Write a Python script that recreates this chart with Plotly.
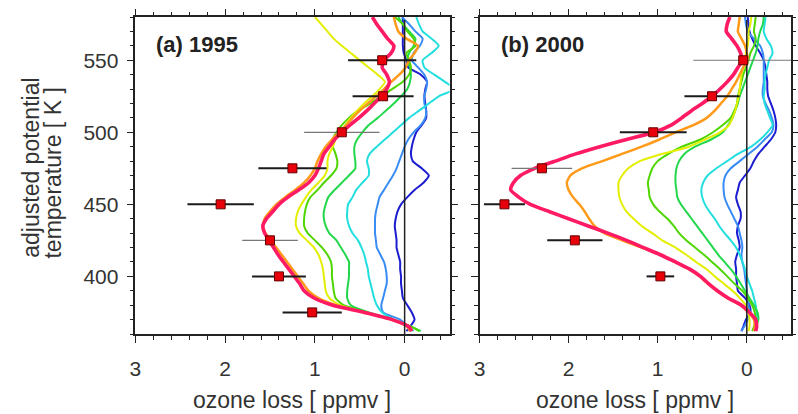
import plotly.graph_objects as go

# Potential-temperature levels (K) shared by every modelled profile
theta = [580, 575, 570, 565, 560,
         555, 550, 545, 540, 535,
         530, 525, 520, 515, 510,
         505, 500, 495, 490, 485,
         480, 475, 470, 465, 460,
         455, 450, 445, 440, 435,
         430, 425, 420, 415, 410,
         405, 400, 395, 390, 385,
         380, 375, 370, 365, 362]

# ---- (a) 1995: modelled ozone loss profiles (ppmv) ----
a_darkblue = [0.02, 0.02, 0.02, 0.02, 0.02,
              0.01, -0.02, -0.04, -0.18, -0.25,
              -0.23, -0.22, -0.23, -0.24, -0.24,
              -0.19, -0.13, -0.10, -0.08, -0.07,
              -0.09, -0.19, -0.27, -0.21, -0.11,
              -0.03, 0.04, 0.08, 0.10, 0.11,
              0.10, 0.09, 0.09, 0.07, 0.05,
              0.05, 0.04, 0.04, 0.03, 0.02,
              -0.03, -0.08, -0.11, -0.06, -0.02]
a_blue = [0.03, -0.05, -0.12, -0.20, -0.17,
          -0.10, -0.08, -0.15, -0.22, -0.25,
          -0.24, -0.22, -0.22, -0.24, -0.23,
          -0.18, -0.10, -0.04, 0.00, 0.03,
          0.06, 0.09, 0.13, 0.18, 0.23,
          0.28, 0.30, 0.32, 0.33, 0.33,
          0.33, 0.32, 0.31, 0.27, 0.23,
          0.21, 0.20, 0.20, 0.22, 0.24,
          0.26, 0.24, 0.05, -0.03, -0.06]
a_cyan = [-0.13, -0.16, -0.20, -0.30, -0.38,
          -0.30, -0.20, -0.22, -0.33, -0.45,
          -0.55, -0.38, -0.27, -0.16, -0.05,
          0.04, 0.13, 0.22, 0.31, 0.39,
          0.42, 0.40, 0.40, 0.47, 0.54,
          0.58, 0.63, 0.64, 0.64, 0.62,
          0.58, 0.52, 0.48, 0.45, 0.43,
          0.41, 0.40, 0.38, 0.36, 0.34,
          0.31, 0.25, 0.12, -0.05, -0.10]
a_green = [0.07, 0.02, -0.05, -0.12, -0.10,
           -0.05, -0.03, -0.06, -0.07, -0.06,
           -0.03, 0.04, 0.12, 0.21, 0.30,
           0.40, 0.47, 0.53, 0.56, 0.56,
           0.55, 0.55, 0.62, 0.70, 0.78,
           0.85, 0.88, 0.90, 0.90, 0.88,
           0.84, 0.76, 0.71, 0.66, 0.62,
           0.62, 0.62, 0.63, 0.64, 0.64,
           0.60, 0.40, 0.12, -0.08, -0.18]
a_lime = [0.11, 0.02, -0.03, -0.10, -0.12,
          -0.02, -0.05, -0.07, -0.05, 0.02,
          0.14, 0.26, 0.38, 0.52, 0.62,
          0.70, 0.76, 0.80, 0.80, 0.77,
          0.75, 0.76, 0.82, 0.90, 0.97,
          1.05, 1.09, 1.11, 1.12, 1.12,
          1.08, 1.00, 0.92, 0.86, 0.82,
          0.81, 0.81, 0.80, 0.79, 0.77,
          0.68, 0.42, 0.14, -0.08, -0.16]
a_yellow = [1.00, 0.93, 0.86, 0.79, 0.70,
            0.60, 0.50, 0.40, 0.30, 0.22,
            0.28, 0.36, 0.45, 0.53, 0.60,
            0.66, 0.72, 0.77, 0.80, 0.84,
            0.86, 0.86, 0.89, 0.96, 1.04,
            1.10, 1.15, 1.19, 1.21, 1.21,
            1.17, 1.09, 1.01, 0.96, 0.93,
            0.91, 0.90, 0.89, 0.88, 0.84,
            0.72, 0.45, 0.16, -0.04, -0.08]
a_orange = [0.12, 0.10, 0.07, -0.02, -0.15,
            -0.11, -0.05, -0.01, 0.06, 0.15,
            0.23, 0.32, 0.41, 0.50, 0.58,
            0.65, 0.73, 0.81, 0.88, 0.93,
            0.97, 1.00, 1.05, 1.12, 1.22,
            1.33, 1.43, 1.50, 1.56, 1.58,
            1.55, 1.49, 1.43, 1.37, 1.31,
            1.25, 1.19, 1.13, 1.07, 0.96,
            0.76, 0.45, 0.14, -0.03, -0.06]
a_red = [0.36, 0.31, 0.25, 0.19, 0.12,
         0.15, 0.23, 0.25, 0.20, 0.17,
         0.20, 0.26, 0.34, 0.42, 0.51,
         0.61, 0.70, 0.78, 0.84, 0.90,
         0.93, 0.96, 1.00, 1.07, 1.18,
         1.30, 1.40, 1.47, 1.54, 1.58,
         1.56, 1.51, 1.46, 1.41, 1.35,
         1.29, 1.23, 1.17, 1.12, 1.01,
         0.80, 0.45, 0.14, -0.05, -0.08]

# ---- (b) 2000: modelled ozone loss profiles (ppmv) ----
b_darkblue = [-0.01, -0.02, -0.03, -0.06, -0.10,
              -0.15, -0.19, -0.21, -0.22, -0.23,
              -0.23, -0.24, -0.27, -0.30, -0.32,
              -0.33, -0.32, -0.27, -0.20, -0.13,
              -0.08, -0.04, 0.02, 0.08, 0.10,
              0.12, 0.10, 0.07, 0.07, 0.10,
              0.11, 0.09, 0.08, 0.11, 0.13,
              0.12, 0.12, 0.11, 0.10, 0.02,
              -0.03, -0.04, 0.01, 0.04, 0.06]
b_blue = [0.02, 0.01, -0.01, -0.08, -0.15,
          -0.18, -0.19, -0.19, -0.19, -0.19,
          -0.18, -0.18, -0.21, -0.25, -0.28,
          -0.30, -0.28, -0.20, -0.12, -0.02,
          0.08, 0.18, 0.24, 0.26, 0.26,
          0.25, 0.22, 0.18, 0.14, 0.10,
          0.08, 0.06, 0.05, 0.06, 0.05,
          0.03, 0.02, 0.01, 0.00, -0.01,
          -0.02, -0.03, -0.01, 0.03, 0.06]
b_cyan = [-0.21, -0.20, -0.19, -0.22, -0.27,
          -0.29, -0.25, -0.23, -0.21, -0.20,
          -0.20, -0.19, -0.20, -0.23, -0.26,
          -0.29, -0.23, -0.15, -0.05, 0.10,
          0.22, 0.34, 0.44, 0.49, 0.51,
          0.50, 0.47, 0.42, 0.36, 0.31,
          0.25, 0.18, 0.12, 0.08, 0.05,
          0.02, 0.00, -0.03, -0.06, -0.08,
          -0.10, -0.11, -0.12, -0.10, -0.08]
b_green = [-0.19, -0.18, -0.15, -0.13, -0.12,
           -0.10, -0.07, -0.04, -0.01, 0.02,
           0.05, 0.08, 0.10, 0.13, 0.16,
           0.21, 0.27, 0.40, 0.58, 0.70,
           0.76, 0.79, 0.80, 0.80, 0.79,
           0.78, 0.74, 0.68, 0.62, 0.56,
           0.50, 0.44, 0.38, 0.32, 0.25,
           0.18, 0.12, 0.07, 0.02, -0.03,
           -0.08, -0.12, -0.13, -0.10, -0.08]
b_lime = [-0.10, -0.09, -0.08, -0.10, -0.08,
          -0.04, -0.02, 0.01, 0.04, 0.06,
          0.08, 0.10, 0.11, 0.14, 0.18,
          0.27, 0.38, 0.52, 0.73, 0.88,
          1.00, 1.06, 1.09, 1.11, 1.10,
          1.09, 1.05, 0.98, 0.89, 0.82,
          0.76, 0.68, 0.58, 0.48, 0.39,
          0.30, 0.22, 0.14, 0.05, -0.01,
          -0.06, -0.09, -0.10, -0.08, -0.06]
b_yellow = [-0.05, -0.04, -0.02, -0.02, -0.01,
            0.01, 0.02, 0.04, 0.06, 0.07,
            0.08, 0.09, 0.11, 0.13, 0.16,
            0.20, 0.30, 0.47, 0.65, 0.95,
            1.20, 1.33, 1.40, 1.44, 1.44,
            1.43, 1.40, 1.35, 1.27, 1.18,
            1.06, 0.95, 0.80, 0.68, 0.57,
            0.45, 0.36, 0.26, 0.16, 0.08,
            0.01, -0.02, -0.03, -0.03, -0.02]
b_orange = [0.08, 0.09, 0.10, 0.06, 0.02,
            0.00, -0.01, 0.04, 0.08, 0.12,
            0.17, 0.22, 0.29, 0.36, 0.45,
            0.60, 0.80, 0.98, 1.18, 1.40,
            1.62, 1.85, 1.98, 2.02, 2.00,
            1.95, 1.88, 1.82, 1.77, 1.71,
            1.60, 1.40, 1.18, 0.97, 0.81,
            0.65, 0.53, 0.44, 0.34, 0.22,
            0.07, -0.02, -0.08, -0.09, -0.08]
b_red = [0.19, 0.22, 0.23, 0.17, 0.11,
         0.07, 0.05, 0.10, 0.15, 0.22,
         0.30, 0.39, 0.50, 0.62, 0.73,
         0.85, 1.04, 1.35, 1.65, 1.92,
         2.15, 2.38, 2.54, 2.62, 2.65,
         2.56, 2.43, 2.22, 2.00, 1.78,
         1.56, 1.35, 1.16, 0.97, 0.80,
         0.64, 0.52, 0.43, 0.33, 0.21,
         0.06, -0.03, -0.10, -0.11, -0.10]

# ---- observed ozone loss with uncertainty ----
obs_theta_a = [550, 525, 500, 475, 450, 425, 400, 375]
obs_loss_a = [0.25, 0.24, 0.70, 1.25, 2.05, 1.50, 1.40, 1.03]
obs_err_a = [0.38, 0.34, 0.42, 0.38, 0.37, 0.31, 0.30, 0.33]

obs_theta_b = [550, 525, 500, 475, 450, 425, 400]
obs_loss_b = [0.04, 0.39, 1.05, 2.30, 2.72, 1.93, 0.97]
obs_err_b = [0.56, 0.31, 0.375, 0.34, 0.23, 0.31, 0.155]

# Error-bar shade per observation (True = light grey bar)
light_bar_a = [False, False, True, False, False, True, False, False]
light_bar_b = [True, False, False, True, False, False, False]

x_ticks = [3, 2, 1, 0]
y_ticks = [400, 450, 500, 550]

# colour scale from earliest (blue) to latest (red) profile
colors = ["#1c1cd0", "#3a8cf5", "#22dede", "#22d84a",
          "#4fd600", "#e4ee00", "#ff9a1a", "#ff1a64"]
widths = [2.0, 2.0, 2.0, 2.0, 2.0, 2.0, 2.5, 3.6]

panels = [
    dict(curves=[a_darkblue, a_blue, a_cyan, a_green, a_lime, a_yellow, a_orange, a_red],
         obs=(obs_theta_a, obs_loss_a, obs_err_a, light_bar_a), xa="x", ya="y"),
    dict(curves=[b_darkblue, b_blue, b_cyan, b_green, b_lime, b_yellow, b_orange, b_red],
         obs=(obs_theta_b, obs_loss_b, obs_err_b, light_bar_b), xa="x2", ya="y2"),
]

fig = go.Figure()

for p in panels:
    for vals, c, w in zip(p["curves"], colors, widths):
        fig.add_trace(go.Scatter(x=vals, y=theta, mode="lines",
                                 line=dict(color=c, width=w, shape="spline", smoothing=0.6),
                                 xaxis=p["xa"], yaxis=p["ya"], hoverinfo="skip"))
    # zero-loss reference line
    fig.add_trace(go.Scatter(x=[0, 0], y=[360, 578], mode="lines",
                             line=dict(color="#222222", width=1.5),
                             xaxis=p["xa"], yaxis=p["ya"], hoverinfo="skip"))
    th, loss, err, light = p["obs"]
    for want_light in (True, False):
        idx = [i for i, l in enumerate(light) if l == want_light]
        if not idx:
            continue
        fig.add_trace(go.Scatter(
            x=[loss[i] for i in idx], y=[th[i] for i in idx], mode="markers",
            marker=dict(symbol="square", size=9, color="#e8000b",
                        line=dict(color="#600000", width=1)),
            error_x=dict(type="data", array=[err[i] for i in idx], visible=True,
                         color="#777777" if want_light else "#1a1a1a",
                         thickness=1.2 if want_light else 2.0, width=0),
            xaxis=p["xa"], yaxis=p["ya"]))

# empty traces so the top/right tick axes get their own subplots
for xa, ya in (("x3", "y"), ("x", "y3"), ("x4", "y2"), ("x2", "y4")):
    fig.add_trace(go.Scatter(x=[None], y=[None], xaxis=xa, yaxis=ya,
                             mode="lines", hoverinfo="skip"))

font_family = "Liberation Sans, Arial, sans-serif"
tick_font = dict(family=font_family, size=21, color="#333333")
X_DOM_A = [130.7 / 798, 448 / 798]
X_DOM_B = [478.3 / 798, 793.3 / 798]
Y_DOM = [0.1932, 0.9589]


def tick_style(minor_step, minor_start):
    return dict(ticks="outside", ticklen=7, tickwidth=1.2, tickcolor="#222",
                minor=dict(dtick=minor_step, tick0=minor_start, ticks="outside",
                           ticklen=4, tickwidth=1, tickcolor="#222", showgrid=False),
                showgrid=False, zeroline=False)


def x_axis(domain, anchor):
    return dict(domain=domain, range=[3, -0.5], autorange=False, anchor=anchor,
                tickmode="array", tickvals=x_ticks, ticktext=[str(t) for t in x_ticks],
                showline=True, linecolor="#222", linewidth=1.5, mirror=True,
                tickfont=tick_font, ticklabelstandoff=8, **tick_style(0.2, 0))


def x_top(domain, base, anchor):
    return dict(domain=domain, range=[3, -0.5], autorange=False, anchor=anchor,
                overlaying=base, side="top", tickmode="array", tickvals=x_ticks,
                showticklabels=False, showline=False, **tick_style(0.2, 0))


def y_axis(anchor, labels):
    return dict(domain=Y_DOM, range=[360, 580], autorange=False, anchor=anchor,
                tickmode="array", tickvals=y_ticks, ticktext=[str(t) for t in y_ticks],
                showticklabels=labels, showline=True, linecolor="#222", linewidth=1.5,
                mirror=True, tickfont=tick_font, ticklabelstandoff=4,
                **tick_style(10, 360))


def y_right(base, anchor):
    return dict(domain=Y_DOM, range=[360, 580], autorange=False, anchor=anchor,
                overlaying=base, side="right", tickmode="array", tickvals=y_ticks,
                showticklabels=False, showline=False, **tick_style(10, 360))


title_font = dict(family=font_family, size=23, color="#333333")
label_font = dict(family=font_family, size=22, color="#222222")

annotations = [
    dict(text="<b>(a) 1995</b>", xref="x domain", yref="y domain", x=0.06, y=0.912,
         xanchor="left", yanchor="middle", showarrow=False, font=label_font),
    dict(text="<b>(b) 2000</b>", xref="x2 domain", yref="y2 domain", x=0.063, y=0.912,
         xanchor="left", yanchor="middle", showarrow=False, font=label_font),
    dict(text="ozone loss [ ppmv ]", xref="x domain", yref="paper", x=0.5, y=1 - 400 / 414,
         xanchor="center", yanchor="middle", showarrow=False, font=title_font),
    dict(text="ozone loss [ ppmv ]", xref="x2 domain", yref="paper", x=0.5, y=1 - 400 / 414,
         xanchor="center", yanchor="middle", showarrow=False, font=title_font),
    dict(text="adjusted potential", xref="paper", yref="paper", x=25 / 798, y=1 - 168 / 414,
         xanchor="center", yanchor="middle", textangle=-90, showarrow=False, font=title_font),
    dict(text="temperature [ K ]", xref="paper", yref="paper", x=47 / 798, y=1 - 173 / 414,
         xanchor="center", yanchor="middle", textangle=-90, showarrow=False, font=title_font),
]

fig.update_layout(
    width=798, height=414,
    margin=dict(l=0, r=0, t=0, b=0),
    paper_bgcolor="white", plot_bgcolor="white",
    showlegend=False,
    xaxis=x_axis(X_DOM_A, "y"),
    xaxis2=x_axis(X_DOM_B, "y2"),
    xaxis3=x_top(X_DOM_A, "x", "y"),
    xaxis4=x_top(X_DOM_B, "x2", "y2"),
    yaxis=y_axis("x", True),
    yaxis2=y_axis("x2", False),
    yaxis3=y_right("y", "x"),
    yaxis4=y_right("y2", "x2"),
    annotations=annotations,
)

fig.write_html("out.html")
